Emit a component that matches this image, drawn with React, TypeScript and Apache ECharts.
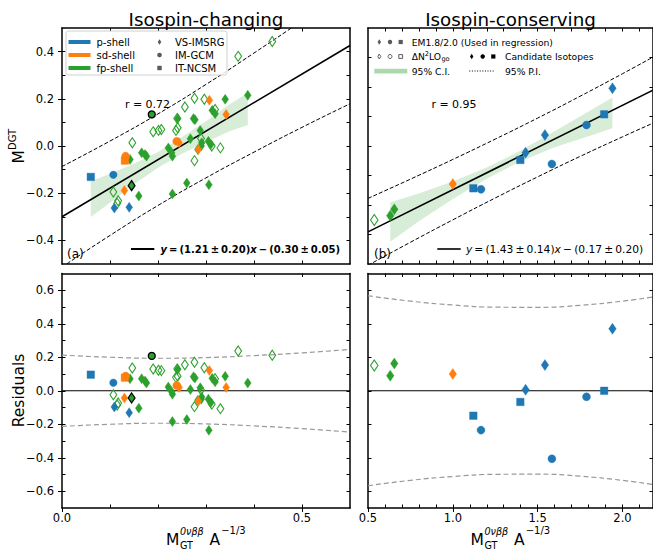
import React, { useEffect, useRef } from "react";
import * as echarts from "echarts";

const FONT = "DejaVu Sans";
const BLUE = "#1f77b4";
const ORANGE = "#ff7f0e";
const GREEN = "#2ca02c";
const GRAY = "#5a5a5a";

// ---------- Panel (a): Isospin-changing ----------
// p-shell
const aPDiaX = [0.109, 0.14];
const aPDiaY = [-0.263, -0.26];
const aPDiaR = [-0.097, -0.131];
const aPCirX = [0.107];
const aPCirY = [-0.122];
const aPCirR = [0.048];
const aPSqX = [0.06];
const aPSqY = [-0.131];
const aPSqR = [0.096];
// sd-shell
const aSdDiaX = [0.13, 0.307, 0.342, 0.244, 0.284];
const aSdDiaY = [-0.189, 0.194, 0.134, 0.014, -0.015];
const aSdDiaR = [-0.044, 0.121, 0.02, 0.02, -0.062];
const aSdCirX = [0.1325, 0.239];
const aSdCirY = [-0.043, 0.02];
const aSdCirR = [0.088, 0.031];
const aSdSqX = [0.131];
const aSdSqY = [-0.062];
const aSdSqR = [0.078];
// fp-shell, EM1.8/2.0 (filled)
const aFpX = [0.387, 0.34, 0.313, 0.319, 0.274, 0.277, 0.241, 0.288, 0.2675, 0.305, 0.31, 0.2215, 0.2285, 0.23, 0.291, 0.29, 0.283, 0.166, 0.173, 0.176, 0.1417, 0.26, 0.306, 0.23, 0.16];
const aFpY = [0.215, 0.198, 0.151, 0.137, 0.116, 0.111, 0.117, 0.066, 0.031, 0.02, 0.006, -0.008, -0.029, -0.043, 0.014, 0.0, -0.015, -0.029, -0.036, -0.043, -0.057, -0.157, -0.164, -0.203, -0.212];
const aFpR = [0.046, 0.086, 0.074, 0.053, 0.084, 0.076, 0.128, 0.018, 0.007, -0.05, -0.071, 0.022, -0.006, -0.021, -0.038, -0.051, -0.057, 0.072, 0.058, 0.046, 0.071, -0.172, -0.236, -0.184, -0.104];
// fp-shell, ΔN2LO_go (open)
const aFpOpenX = [0.438, 0.367, 0.276, 0.2965, 0.256, 0.24, 0.319, 0.19, 0.201, 0.207, 0.2375, 0.241, 0.1465, 0.2896, 0.312, 0.33, 0.276, 0.107, 0.117, 0.115];
const aFpOpenY = [0.443, 0.38, 0.202, 0.198, 0.165, 0.117, 0.155, 0.06, 0.066, 0.07, 0.066, 0.077, 0.014, 0.032, 0.0, -0.008, -0.062, -0.195, -0.232, -0.243];
const aFpOpenR = [0.212, 0.237, 0.17, 0.137, 0.155, 0.13, 0.072, 0.13, 0.122, 0.12, 0.08, 0.087, 0.136, 0.005, -0.08, -0.107, -0.095, -0.024, -0.073, -0.085];
// candidate isotopes (black edge)
const aCandCirX = [0.187];
const aCandCirY = [0.134];
const aCandCirR = [0.208];
const aCandDiaX = [0.145];
const aCandDiaY = [-0.168];
const aCandDiaR = [-0.043];
// fit, prediction interval, confidence band
const aFitX = [0, 0.6];
const aFitY = [-0.3, 0.426];
const aPiX = [0, 0.1, 0.2, 0.3, 0.4, 0.5, 0.6];
const aPiUp = [-0.087, 0.021, 0.136, 0.261, 0.394, 0.531, 0.673];
const aPiLo = [-0.513, -0.379, -0.252, -0.135, -0.026, 0.079, 0.179];
const aResPi = [0.213, 0.2, 0.194, 0.198, 0.21, 0.226, 0.247];
const aBandX = [0.06, 0.1, 0.15, 0.2, 0.25, 0.3, 0.35, 0.387];
const aBandHi = [-0.149, -0.118, -0.075, -0.025, 0.038, 0.105, 0.178, 0.225];
const aBandLo = [-0.301, -0.24, -0.162, -0.092, -0.033, 0.017, 0.064, 0.089];

// ---------- Panel (b): Isospin-conserving ----------
const bFpOpenX = [0.537];
const bFpOpenY = [0.746];
const bFpOpenR = [0.151];
const bFpX = [0.631, 0.655];
const bFpY = [0.819, 0.927];
const bFpR = [0.09, 0.163];
const bSdX = [1.0];
const bSdY = [1.356];
const bSdR = [0.1];
const bPSqX = [1.121, 1.398, 1.892];
const bPSqY = [1.283, 1.763, 2.537];
const bPSqR = [-0.149, -0.067, 0.0];
const bPCirX = [1.166, 1.584, 1.788];
const bPCirY = [1.266, 1.695, 2.356];
const bPCirR = [-0.235, -0.406, -0.036];
const bPDiaX = [1.429, 1.543, 1.941];
const bPDiaY = [1.886, 2.186, 2.978];
const bPDiaR = [0.006, 0.153, 0.37];
const bFitX = [0.5, 2.18];
const bFitY = [0.545, 2.947];
const bPiX = [0.5, 0.75, 1.0, 1.25, 1.5, 1.75, 2.0, 2.18];
const bPiUp = [1.112, 1.438, 1.772, 2.117, 2.473, 2.843, 3.225, 3.507];
const bPiLo = [-0.022, 0.368, 0.748, 1.119, 1.477, 1.823, 2.155, 2.387];
const bResPi = [0.567, 0.535, 0.512, 0.499, 0.498, 0.51, 0.535, 0.56];
const bBandX = [0.631, 0.8, 1.0, 1.2, 1.4, 1.6, 1.8, 1.941];
const bBandHi = [1.046, 1.194, 1.4, 1.636, 1.922, 2.248, 2.584, 2.82];
const bBandLo = [0.378, 0.724, 1.1, 1.446, 1.742, 1.978, 2.164, 2.3];

// ---------- axes: ranges, labels, ticks ----------
const aXRange = [0, 0.6];
const aYRange = [-0.5, 0.5];
const bXRange = [0.5, 2.18];
const bYRange = [0, 4];
const resRange = [-0.7, 0.7];
const aXLabels = [0.0, 0.5];
const aXTicks = [0.1, 0.2, 0.3, 0.4, 0.5];
const aYLabels = [-0.4, -0.2, 0.0, 0.2, 0.4];
const aYTicks = [-0.4, -0.3, -0.2, -0.1, 0.0, 0.1, 0.2, 0.3, 0.4];
const bXLabels = [0.5, 1.0, 1.5, 2.0];
const bXTicks = [0.6, 0.7, 0.8, 0.9, 1.0, 1.1, 1.2, 1.3, 1.4, 1.5, 1.6, 1.7, 1.8, 1.9, 2.0, 2.1];
const bYTicks = [0.5, 1.0, 1.5, 2.0, 2.5, 3.0, 3.5];
const resLabels = [-0.6, -0.4, -0.2, 0.0, 0.2, 0.4, 0.6];
const resTicksA = [-0.6, -0.5, -0.4, -0.3, -0.2, -0.1, 0.0, 0.1, 0.2, 0.3, 0.4, 0.5, 0.6];
const resTicksB = [-0.6, -0.4, -0.2, 0.0, 0.2, 0.4, 0.6];
const zeroY = [0, 0];

const fmt = (v: number) => {
  const s = Math.abs(v).toFixed(1);
  return v < -1e-9 ? "\u2212" + s : s;
};

function axisSet(isX: boolean, gi: number, range: number[], labels: number[], ticks: number[], showLabels: boolean) {
  const line = { show: true, onZero: false, lineStyle: { color: "#000", width: 1.5 } };
  const base = {
    type: "value",
    gridIndex: gi,
    min: range[0],
    max: range[1],
    position: isX ? "bottom" : "left",
    splitLine: { show: false },
    axisPointer: { show: false },
  };
  const main = {
    ...base,
    axisLine: line,
    axisTick: {
      show: showLabels,
      inside: false,
      length: 4,
      customValues: labels,
      lineStyle: { color: "#000", width: 1 },
    },
    axisLabel: {
      show: showLabels,
      customValues: labels,
      formatter: fmt,
      color: "#000",
      fontSize: 11.5,
      fontFamily: FONT,
      margin: isX ? 4 : 8,
    },
  };
  const inner = {
    ...base,
    axisLine: { show: false, onZero: false },
    axisTick: { show: true, inside: true, length: 3.5, customValues: ticks, lineStyle: { color: "#000", width: 1 } },
    axisLabel: { show: false },
  };
  const opp = { ...inner, position: isX ? "top" : "right", axisLine: line };
  return [main, inner, opp];
}

function sc(gi: number, xs: number[], ys: number[], symbol: string, size: any, color: string, open = false, edge?: string) {
  return {
    type: "scatter",
    xAxisIndex: gi * 3,
    yAxisIndex: gi * 3,
    symbol,
    symbolSize: size,
    silent: true,
    z: 5,
    data: xs.map((x, i) => [x, ys[i]]),
    itemStyle: open
      ? { color: "rgba(255,255,255,0)", borderColor: color, borderWidth: 1.1, opacity: 1 }
      : { color, borderColor: edge ?? color, borderWidth: edge ? 1.3 : 0.4, opacity: 1 },
  };
}

function ln(gi: number, xs: number[], ys: number[], color: string, width: number, type: any, smooth = false) {
  return {
    type: "line",
    xAxisIndex: gi * 3,
    yAxisIndex: gi * 3,
    data: xs.map((x, i) => [x, ys[i]]),
    showSymbol: false,
    symbol: "none",
    smooth,
    silent: true,
    clip: true,
    z: 3,
    lineStyle: { color, width, type },
  };
}

function band(gi: number, xs: number[], lo: number[], hi: number[]) {
  return {
    type: "custom",
    xAxisIndex: gi * 3,
    yAxisIndex: gi * 3,
    silent: true,
    z: 1,
    data: xs.map((x, i) => [x, lo[i], hi[i]]),
    encode: { x: 0, y: [1, 2] },
    renderItem: (params: any, api: any) => {
      if (params.dataIndex !== 0) return null;
      const pts: number[][] = [];
      for (let i = 0; i < xs.length; i++) pts.push(api.coord([xs[i], hi[i]]));
      for (let i = xs.length - 1; i >= 0; i--) pts.push(api.coord([xs[i], lo[i]]));
      return { type: "polygon", shape: { points: pts }, style: { fill: "rgba(44,160,44,0.19)" } };
    },
  };
}

const DIA = [6.8, 10];
const DIA_B = [7.5, 11];

function txt(x: number, y: number, text: string, size: number, opts: any = {}) {
  const align = opts.align ?? "left";
  return {
    type: "text",
    x,
    y,
    silent: true,
    z: 20,
    style: {
      text,
      fill: opts.fill ?? "#000",
      fontFamily: FONT,
      fontSize: size,
      fontStyle: opts.italic ? "italic" : "normal",
      fontWeight: opts.bold ? "bold" : "normal",
      align,
      textAlign: align,
      verticalAlign: "middle",
      textVerticalAlign: "middle",
      rich: opts.rich,
    },
  };
}

function diamondShape(cx: number, cy: number, w: number, h: number, fill: string, stroke?: string) {
  return {
    type: "polygon",
    silent: true,
    z: 20,
    shape: { points: [[cx, cy - h / 2], [cx + w / 2, cy], [cx, cy + h / 2], [cx - w / 2, cy]] },
    style: { fill, stroke: stroke ?? fill, lineWidth: stroke ? 1 : 0 },
  };
}
function circleShape(cx: number, cy: number, r: number, fill: string, stroke?: string) {
  return { type: "circle", silent: true, z: 20, shape: { cx, cy, r }, style: { fill, stroke: stroke ?? fill, lineWidth: stroke ? 1 : 0 } };
}
function squareShape(cx: number, cy: number, s: number, fill: string, stroke?: string) {
  return {
    type: "rect",
    silent: true,
    z: 20,
    shape: { x: cx - s / 2, y: cy - s / 2, width: s, height: s },
    style: { fill, stroke: stroke ?? fill, lineWidth: stroke ? 1 : 0 },
  };
}
function seg(x1: number, y1: number, x2: number, y2: number, color: string, w: number, dash?: number[]) {
  return {
    type: "line",
    silent: true,
    z: 20,
    shape: { x1, y1, x2, y2 },
    style: { stroke: color, lineWidth: w, lineDash: dash },
  };
}

function xName(cx: number) {
  return [
    txt(cx - 40, 539.5, "M", 15.5),
    txt(cx - 26, 531, "0\u03bd\u03b2\u03b2", 9.6, { italic: true }),
    txt(cx - 26, 545, "GT", 9.6),
    txt(cx + 3.5, 539.5, "A", 15.5),
    txt(cx + 15.2, 530.5, "\u22121/3", 10),
  ];
}

function buildOption() {
  const grids = [
    { left: 62, top: 28, width: 288, height: 236 },
    { left: 368, top: 28, width: 285, height: 236 },
    { left: 62, top: 273.5, width: 288, height: 234.5 },
    { left: 368, top: 273.5, width: 285, height: 234.5 },
  ];
  const xAxis = [
    ...axisSet(true, 0, aXRange, aXLabels, aXTicks, false),
    ...axisSet(true, 1, bXRange, bXLabels, bXTicks, false),
    ...axisSet(true, 2, aXRange, aXLabels, aXTicks, true),
    ...axisSet(true, 3, bXRange, bXLabels, bXTicks, true),
  ];
  const yAxis = [
    ...axisSet(false, 0, aYRange, aYLabels, aYTicks, true),
    ...axisSet(false, 1, bYRange, [], bYTicks, false),
    ...axisSet(false, 2, resRange, resLabels, resTicksA, true),
    ...axisSet(false, 3, resRange, [], resTicksB, false),
  ];

  const neg = (a: number[]) => a.map((v) => -v);

  const series: any[] = [
    // (a) top
    band(0, aBandX, aBandLo, aBandHi),
    ln(0, aFitX, aFitY, "#000", 1.6, "solid"),
    ln(0, aPiX, aPiUp, "#000", 1, [4, 2], true),
    ln(0, aPiX, aPiLo, "#000", 1, [4, 2], true),
    sc(0, aFpOpenX, aFpOpenY, "diamond", DIA, GREEN, true),
    sc(0, aFpX, aFpY, "diamond", DIA, GREEN),
    sc(0, aSdDiaX, aSdDiaY, "diamond", DIA, ORANGE),
    sc(0, aSdSqX, aSdSqY, "rect", 7.5, ORANGE),
    sc(0, aSdCirX, aSdCirY, "circle", 8, ORANGE),
    sc(0, aPDiaX, aPDiaY, "diamond", DIA, BLUE),
    sc(0, aPCirX, aPCirY, "circle", 7.5, BLUE),
    sc(0, aPSqX, aPSqY, "rect", 7.5, BLUE),
    sc(0, aCandCirX, aCandCirY, "circle", 7, GREEN, false, "#000"),
    sc(0, aCandDiaX, aCandDiaY, "diamond", DIA, GREEN, false, "#000"),
    // (b) top
    band(1, bBandX, bBandLo, bBandHi),
    ln(1, bFitX, bFitY, "#000", 1.6, "solid"),
    ln(1, bPiX, bPiUp, "#000", 1, [4, 2], true),
    ln(1, bPiX, bPiLo, "#000", 1, [4, 2], true),
    sc(1, bFpOpenX, bFpOpenY, "diamond", DIA_B, GREEN, true),
    sc(1, bFpX, bFpY, "diamond", DIA_B, GREEN),
    sc(1, bSdX, bSdY, "diamond", DIA_B, ORANGE),
    sc(1, bPSqX, bPSqY, "rect", 7.5, BLUE),
    sc(1, bPCirX, bPCirY, "circle", 8, BLUE),
    sc(1, bPDiaX, bPDiaY, "diamond", DIA_B, BLUE),
    // (a) residuals
    ln(2, aFitX, zeroY, "#000", 1.2, "solid"),
    ln(2, aPiX, aResPi, "#999", 1.2, [5, 3], true),
    ln(2, aPiX, neg(aResPi), "#999", 1.2, [5, 3], true),
    sc(2, aFpOpenX, aFpOpenR, "diamond", DIA, GREEN, true),
    sc(2, aFpX, aFpR, "diamond", DIA, GREEN),
    sc(2, aSdDiaX, aSdDiaR, "diamond", DIA, ORANGE),
    sc(2, aSdSqX, aSdSqR, "rect", 7.5, ORANGE),
    sc(2, aSdCirX, aSdCirR, "circle", 8, ORANGE),
    sc(2, aPDiaX, aPDiaR, "diamond", DIA, BLUE),
    sc(2, aPCirX, aPCirR, "circle", 7.5, BLUE),
    sc(2, aPSqX, aPSqR, "rect", 7.5, BLUE),
    sc(2, aCandCirX, aCandCirR, "circle", 7, GREEN, false, "#000"),
    sc(2, aCandDiaX, aCandDiaR, "diamond", DIA, GREEN, false, "#000"),
    // (b) residuals
    ln(3, bFitX, zeroY, "#000", 1.2, "solid"),
    ln(3, bPiX, bResPi, "#999", 1.2, [5, 3], true),
    ln(3, bPiX, neg(bResPi), "#999", 1.2, [5, 3], true),
    sc(3, bFpOpenX, bFpOpenR, "diamond", DIA_B, GREEN, true),
    sc(3, bFpX, bFpR, "diamond", DIA_B, GREEN),
    sc(3, bSdX, bSdR, "diamond", DIA_B, ORANGE),
    sc(3, bPSqX, bPSqR, "rect", 7.5, BLUE),
    sc(3, bPCirX, bPCirR, "circle", 8, BLUE),
    sc(3, bPDiaX, bPDiaR, "diamond", DIA_B, BLUE),
  ];

  const eqRich = (bold: boolean, size: number) => ({
    i: { fontStyle: "italic", fontFamily: FONT, fontSize: size, fontWeight: bold ? "bold" : "normal", fill: "#000" },
  });
  const T = "\u2009";
  const eqA = `{i|y}${T}=${T}(1.21${T}\u00b1${T}0.20){i|x}${T}\u2212${T}(0.30${T}\u00b1${T}0.05)`;
  const eqB = `{i|y}${T}=${T}(1.43${T}\u00b1${T}0.14){i|x}${T}\u2212${T}(0.17${T}\u00b1${T}0.20)`;

  const graphic: any[] = [
    txt(206, 19.5, "Isospin-changing", 18.3, { align: "center" }),
    txt(510.5, 19.5, "Isospin-conserving", 18.3, { align: "center" }),
    // y names
    {
      type: "group",
      x: 19,
      y: 146,
      rotation: Math.PI / 2,
      silent: true,
      children: [txt(-17.5, 0, "M", 15.5), txt(-4, -6.5, "DGT", 10)],
    },
    {
      type: "group",
      x: 19,
      y: 390.5,
      rotation: Math.PI / 2,
      silent: true,
      children: [txt(0, 0, "Residuals", 15.5, { align: "center" })],
    },
    ...xName(206),
    ...xName(510.5),
    // annotations
    txt(147.5, 104, "r = 0.72", 11, { align: "center" }),
    txt(454, 104, "r = 0.95", 11, { align: "center" }),
    txt(67, 254, "(a)", 12),
    txt(374, 254, "(b)", 12),
    seg(131, 249, 154.3, 249, "#000", 2),
    txt(340, 249, eqA, 10, { align: "right", bold: true, rich: eqRich(true, 10) }),
    seg(437.3, 249, 460.7, 249, "#000", 1.6),
    txt(643.3, 249, eqB, 10.7, { align: "right", rich: eqRich(false, 10.7) }),
    // left legend
    {
      type: "rect",
      silent: true,
      z: 19,
      shape: { x: 66, y: 31, width: 161, height: 44, r: 2.5 },
      style: { fill: "rgba(255,255,255,0.85)", stroke: "#d0d0d0", lineWidth: 1 },
    },
    seg(68.5, 42, 90.5, 42, BLUE, 4),
    seg(68.5, 55, 90.5, 55, ORANGE, 4),
    seg(68.5, 68, 90.5, 68, GREEN, 4),
    txt(96.5, 42, "p-shell", 10),
    txt(96.5, 55, "sd-shell", 10),
    txt(96.5, 68, "fp-shell", 10),
    diamondShape(159.5, 42, 3.6, 5.6, GRAY),
    circleShape(159.5, 55, 2.3, GRAY),
    squareShape(159.5, 68, 4.4, GRAY),
    txt(175, 42, "VS-IMSRG", 10),
    txt(175, 55, "IM-GCM", 10),
    txt(175, 68, "IT-NCSM", 10),
    // right legend
    diamondShape(379.3, 42, 3.4, 5.4, GRAY),
    circleShape(390, 42, 2.2, GRAY),
    squareShape(400.7, 42, 4.2, GRAY),
    txt(411.7, 42, "EM1.8/2.0 (Used in regression)", 9.2),
    diamondShape(379.3, 56.5, 3, 5, "#fff", GRAY),
    circleShape(390, 56.5, 2, "#fff", GRAY),
    squareShape(400.7, 56.5, 3.8, "#fff", GRAY),
    txt(411.7, 56.5, "\u0394N", 9.2),
    txt(424.8, 53.5, "2", 6.6),
    txt(429, 56.5, "LO", 9.2),
    txt(441.4, 59, "go", 6.6),
    diamondShape(471.7, 56.5, 3.4, 5.4, "#000"),
    circleShape(482.7, 56.5, 2.2, "#000"),
    squareShape(493.3, 56.5, 4.2, "#000"),
    txt(505, 56.5, "Candidate Isotopes", 9.2),
    {
      type: "rect",
      silent: true,
      z: 20,
      shape: { x: 374.3, y: 68.8, width: 33, height: 4.6 },
      style: { fill: "rgba(44,160,44,0.4)" },
    },
    txt(411.7, 71, "95% C.I.", 9.2),
    seg(469.3, 71, 495, 71, "#000", 1, [1, 1.6]),
    txt(505, 71, "95% P.I.", 9.2),
  ];

  return {
    animation: false,
    backgroundColor: "#fff",
    grid: grids,
    xAxis,
    yAxis,
    series,
    graphic,
  };
}

export default function App() {
  const ref = useRef<HTMLDivElement>(null);
  useEffect(() => {
    if (!ref.current) return;
    const chart = echarts.init(ref.current, undefined, { renderer: "svg" });
    chart.setOption(buildOption() as any);
    return () => chart.dispose();
  }, []);
  return (
    <div
      ref={ref}
      style={{ position: "absolute", left: 0, top: 0, width: 653, height: 551, background: "#fff" }}
    />
  );
}
